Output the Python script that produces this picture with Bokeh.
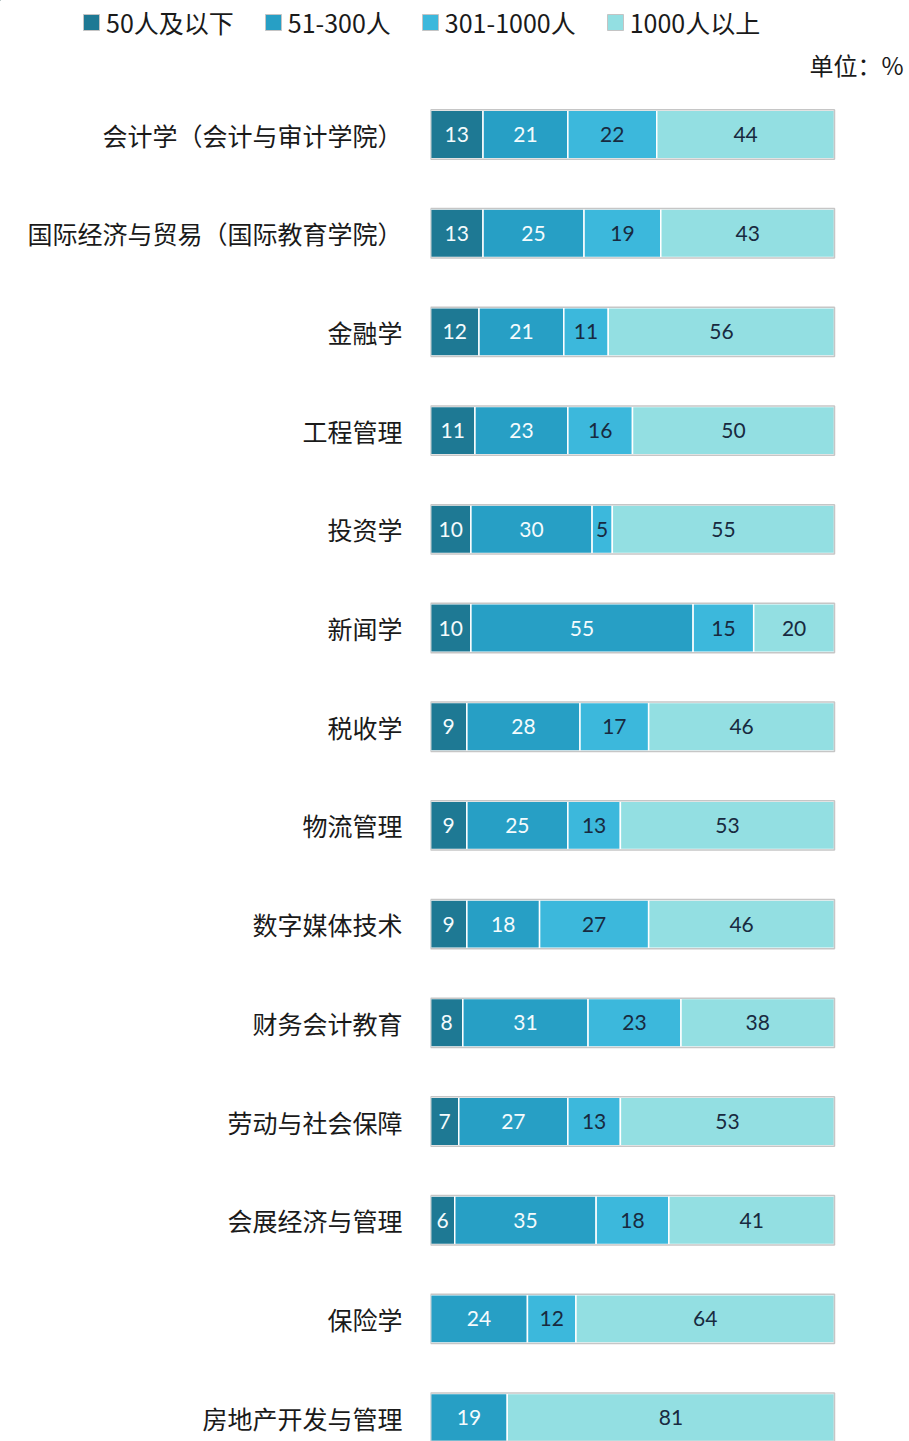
from bokeh.plotting import figure
from bokeh.layouts import column
from bokeh.models import ColumnDataSource, Range1d, FixedTicker, Legend, LegendItem, Label
from bokeh.core.properties import value
from bokeh.embed import file_html
from bokeh.resources import INLINE

categories = ["会计学（会计与审计学院）", "国际经济与贸易（国际教育学院）", "金融学", "工程管理",
              "投资学", "新闻学", "税收学", "物流管理", "数字媒体技术", "财务会计教育",
              "劳动与社会保障", "会展经济与管理", "保险学", "房地产开发与管理"]
series_names = ["50人及以下", "51-300人", "301-1000人", "1000人以上"]
s_50 = [13, 13, 12, 11, 10, 10, 9, 9, 9, 8, 7, 6, 0, 0]
s_300 = [21, 25, 21, 23, 30, 55, 28, 25, 18, 31, 27, 35, 24, 19]
s_1000 = [22, 19, 11, 16, 5, 15, 17, 13, 27, 23, 13, 18, 12, 0]
s_more = [44, 43, 56, 50, 55, 20, 46, 53, 46, 38, 53, 41, 64, 81]
unit_text = "单位：%"

series = [s_50, s_300, s_1000, s_more]
colors = ["#1e7994", "#279fc5", "#3cb8dc", "#93dfe2"]
text_colors = ["#f4fbfd", "#f4fbfd", "#182a40", "#182a40"]
CJK = "Noto Sans CJK SC"

W = 909
TOP_H = 85
MAIN_H = 1441 - TOP_H

n = len(categories)
rows = list(range(n))

# stacked segment sources
sources = []
cum = [0] * n
for k, vals in enumerate(series):
    ys, lefts, rights, xs, ts = [], [], [], [], []
    for i in range(n):
        if vals[i] > 0:
            ys.append(i)
            lefts.append(cum[i])
            rights.append(cum[i] + vals[i])
            xs.append(cum[i] + vals[i] / 2)
            ts.append(str(vals[i]))
        cum[i] += vals[i]
    sources.append(ColumnDataSource(dict(y=ys, left=lefts, right=rights, x=xs, t=ts)))
totals = cum

# ---------- header: legend + unit ----------
# header coordinates are offset so that the (legend-only) bar renderers stay out of view
OFF = 5000
top = figure(width=W, height=TOP_H, output_backend="svg", toolbar_location=None,
             x_range=Range1d(OFF, OFF + W), y_range=Range1d(OFF + TOP_H, OFF),
             x_axis_location=None, y_axis_location=None,
             min_border_left=0, min_border_right=0, min_border_top=0, min_border_bottom=0)
top.outline_line_color = None
top.xgrid.visible = False
top.ygrid.visible = False

leg_renderers = []
for k in range(4):
    r = top.hbar(y="y", left="left", right="right", height=0.49, source=sources[k],
                 fill_color=colors[k], line_color="#c4c4c4", line_width=1)
    leg_renderers.append(r)

legend = Legend(items=[LegendItem(label=series_names[k], renderers=[leg_renderers[k]])
                       for k in range(4)],
                orientation="horizontal", location=(81, 45),
                glyph_width=20, glyph_height=20, label_standoff=5, spacing=29,
                padding=0, margin=0, border_line_color=None,
                background_fill_alpha=0, label_text_font=CJK,
                label_text_font_size="25px", label_text_color="#1a1a1a")
top.add_layout(legend)

top.add_layout(Label(x=OFF + 903, y=OFF + 64, text=unit_text, text_align="right",
                     text_baseline="middle", text_font=CJK,
                     text_font_size="24px", text_color="#1a1a1a"))

# ---------- main chart ----------
px_per_unit = 4.04
bar_left_px = 430
row0_px = 134 - TOP_H
row_step = 98.7

p = figure(width=W, height=MAIN_H, output_backend="svg", toolbar_location=None,
           x_range=Range1d(0, (W - bar_left_px) / px_per_unit),
           y_range=Range1d((MAIN_H - row0_px) / row_step, -row0_px / row_step),
           x_axis_location=None, min_border_left=bar_left_px, min_border_right=0,
           min_border_top=0, min_border_bottom=0)
p.outline_line_color = None
p.xgrid.visible = False
p.ygrid.visible = False

for fig in (top, p):
    try:
        fig.frame_align = False
    except Exception:
        pass

yax = p.yaxis[0]
yax.ticker = FixedTicker(ticks=rows)
yax.major_label_overrides = {i: c for i, c in enumerate(categories)}
yax.axis_line_color = None
yax.major_tick_line_color = None
yax.minor_tick_line_color = None
yax.major_tick_out = 0
yax.major_tick_in = 0
yax.minor_tick_out = 0
yax.major_label_standoff = 28
yax.major_label_text_font = CJK
yax.major_label_text_font_size = "25px"
yax.major_label_text_color = "#1a1a1a"

for k in range(4):
    p.hbar(y="y", left="left", right="right", height=0.49, source=sources[k],
           fill_color=colors[k], line_color="white", line_width=1.5)
    p.text(x="x", y="y", text="t", source=sources[k], text_align="center",
           text_baseline="middle", text_font=value("Lato"),
           text_font_size="21px", text_color=text_colors[k])

p.hbar(y=rows, left=0, right=totals, height=0.5, fill_color=None,
       line_color="#c6c6c6", line_width=1.5)

layout = column(top, p, spacing=0)
open("out.html", "w").write(file_html(layout, INLINE))
